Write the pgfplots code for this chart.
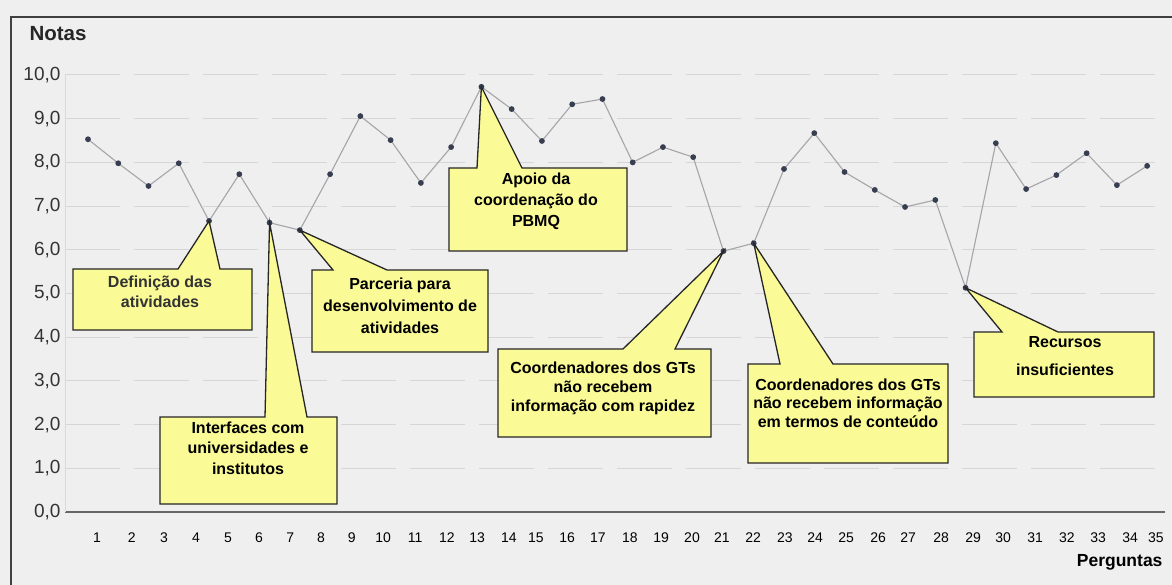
\documentclass[border=0pt]{standalone}
\usepackage{pgfplots}
\pgfplotsset{compat=1.18}
\usepackage{fontspec}
\setmainfont{Liberation Sans}
\definecolor{bg}{RGB}{239,239,239}
\definecolor{callout}{RGB}{250,250,150}
\definecolor{lineg}{RGB}{165,165,170}
\definecolor{mk}{RGB}{55,62,80}
\definecolor{gridc}{RGB}{214,214,214}
\begin{document}
\begin{tikzpicture}[x=1pt,y=1pt]
\fill[bg] (0,0) rectangle (1172,-585);
\useasboundingbox (0,0) rectangle (1172,-585);
\draw[line width=1.6pt, black!75] (11,-585) -- (11,-17) -- (1172,-17);
\node[anchor=west, font=\bfseries\fontsize{20.5}{22}\selectfont, text=black!85] at (26,-34) {Notas};
\begin{axis}[
  at={(65pt,-512pt)}, anchor=south west,
  scale only axis, width=1100pt, height=437pt,
  xmin=0.24, xmax=36.59, ymin=0, ymax=10,
  clip=false,
  axis x line*=bottom, axis y line*=left,
  x axis line style={-, draw=black!60, line width=1.3pt},
  y axis line style={-, draw=black!15, line width=1pt},
  major tick length=0pt,
  ytick={0,1,...,10},
  ymajorgrids,
  grid style={gridc, line width=1pt, dash pattern=on 55pt off 14pt},
  /pgf/number format/.cd, fixed, fixed zerofill, precision=1, use comma, assume math mode=true,
  /pgfplots/.cd,
  yticklabel style={font=\fontsize{19}{21}\selectfont, text=black!80, xshift=-1pt},
  xtick={1.30,2.45,3.51,4.57,5.63,6.65,7.68,8.70,9.72,10.75,11.81,12.86,13.86,14.91,15.80,16.83,17.85,18.91,19.94,20.96,21.95,22.98,24.03,25.03,26.05,27.11,28.10,29.19,30.25,31.24,32.30,33.35,34.38,35.44,36.29},
  xticklabels={1,2,3,4,5,6,7,8,9,10,11,12,13,14,15,16,17,18,19,20,21,22,23,24,25,26,27,28,29,30,31,32,33,34,35},
  xticklabel style={font=\fontsize{14}{15}\selectfont, text=black, yshift=-17pt},
]
\addplot[lineg, line width=1.1pt, mark=*, mark size=2.3pt, mark options={fill=mk, draw=mk}] coordinates {
(1,8.53) (2,7.98) (3,7.46) (4,7.98) (5,6.66) (6,7.73) (7,6.62) (8,6.45) (9,7.73) (10,9.06)
(11,8.51) (12,7.53) (13,8.35) (14,9.73) (15,9.22) (16,8.49) (17,9.33) (18,9.45) (19,8.00) (20,8.35)
(21,8.12) (22,5.97) (23,6.15) (24,7.85) (25,8.67) (26,7.78) (27,7.37) (28,6.98) (29,7.14) (30,5.13)
(31,8.44) (32,7.39) (33,7.71) (34,8.21) (35,7.48) (36,7.92)
};
\coordinate (p5) at (axis cs:5,6.66);
\coordinate (p7) at (axis cs:7,6.62);
\coordinate (p8) at (axis cs:8,6.45);
\coordinate (p14) at (axis cs:14,9.73);
\coordinate (p22) at (axis cs:22,5.97);
\coordinate (p23) at (axis cs:23,6.15);
\coordinate (p30) at (axis cs:30,5.13);
\end{axis}
\tikzset{co/.style={fill=callout, draw=black!85, line width=1.3pt, line join=miter},
         ct/.style={align=center, font=\bfseries\fontsize{16}{20}\selectfont}}
% 1 Definicao das atividades
\draw[co] (73,-269) -- (178,-269) -- (p5) -- (220,-269) -- (252,-269) -- (252,-330) -- (73,-330) -- cycle;
\node[ct, text=black!80] at (160,-292) {Definição das\\atividades};
% 2 Interfaces
\draw[co] (160,-417) -- (265,-417) -- (p7) -- (307,-417) -- (337,-417) -- (337,-504) -- (160,-504) -- cycle;
\node[ct, font=\bfseries\fontsize{16}{20.5}\selectfont] at (248,-448) {Interfaces com\\universidades e\\institutos};
% 3 Parceria
\draw[co] (312,-270) -- (333,-270) -- (p8) -- (387,-270) -- (488,-270) -- (488,-352) -- (312,-352) -- cycle;
\node[ct, font=\bfseries\fontsize{16}{22}\selectfont] at (400,-306) {Parceria para\\desenvolvimento de\\atividades};
% 4 Apoio
\draw[co] (449,-168) -- (477,-168) -- (p14) -- (522,-168) -- (627,-168) -- (627,-251) -- (449,-251) -- cycle;
\node[ct, font=\bfseries\fontsize{16}{21}\selectfont] at (536,-201) {Apoio da\\coordenação do\\PBMQ};
% 5 Coordenadores rapidez
\draw[co] (498,-349) -- (623,-349) -- (p22) -- (675,-349) -- (711,-349) -- (711,-437) -- (498,-437) -- cycle;
\node[ct, font=\bfseries\fontsize{16}{19}\selectfont] at (603,-388) {Coordenadores dos GTs\\não recebem\\informação com rapidez};
% 6 Coordenadores conteudo
\draw[co] (748,-364) -- (780,-364) -- (p23) -- (833,-364) -- (948,-364) -- (948,-463) -- (748,-463) -- cycle;
\node[ct, font=\bfseries\fontsize{16}{18.5}\selectfont] at (848,-403) {Coordenadores dos GTs\\não recebem informação\\em termos de conteúdo};
% 7 Recursos
\draw[co] (974,-332) -- (1002,-332) -- (p30) -- (1058,-332) -- (1154,-332) -- (1154,-397) -- (974,-397) -- cycle;
\node[ct, font=\bfseries\fontsize{16}{28}\selectfont] at (1065,-356) {Recursos\\insuficientes};
\node[anchor=east, font=\bfseries\fontsize{17.5}{19}\selectfont] at (1166,-562) {Perguntas};
\end{tikzpicture}
\end{document}
